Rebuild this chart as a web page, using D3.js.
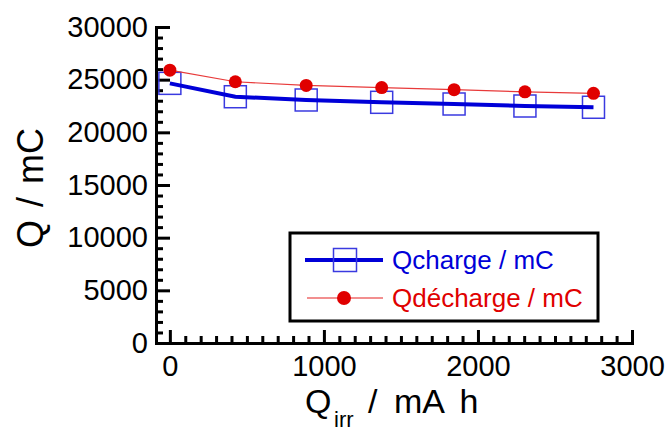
<!DOCTYPE html>
<html><head><meta charset="utf-8">
<script src="https://cdn.jsdelivr.net/npm/d3@7"></script>
<style>
body{margin:0;background:#fff;}
text{font-family:"Liberation Sans",Arial,sans-serif;}
</style></head>
<body><svg id="c" width="665" height="432"></svg>
<script>
const qirr = [0, 425, 885, 1375, 1845, 2305, 2750];
const qcharge = [24650, 23380, 23070, 22850, 22690, 22500, 22380];
const qdecharge = [25900, 24800, 24450, 24250, 24050, 23850, 23700];
const yMajor = [0, 5000, 10000, 15000, 20000, 25000, 30000];
const xMajor = [0, 1000, 2000, 3000];
const seriesNames = ["Qcharge / mC", "Qdécharge / mC"];

const svg = d3.select("#c");
const x = d3.scaleLinear().domain([-90, 3000]).range([156, 632]);
const y = d3.scaleLinear().domain([0, 30000]).range([343, 27]);
const blue = "#0000d8", red = "#e00000";

// minor ticks
const yMinor = d3.range(0, 30001, 1000).filter(v => v % 5000 !== 0);
const xMinor = d3.range(0, 3001, 100).filter(v => v % 1000 !== 0);
svg.append("g").attr("transform","translate(156,0)")
  .call(d3.axisLeft(y).tickValues(yMinor).tickSize(-7).tickFormat(""))
  .call(g=>g.select(".domain").remove())
  .call(g=>g.selectAll("line").attr("stroke","#000").attr("stroke-width",3));
svg.append("g").attr("transform","translate(0,343)")
  .call(d3.axisBottom(x).tickValues(xMinor).tickSize(-7).tickFormat(""))
  .call(g=>g.select(".domain").remove())
  .call(g=>g.selectAll("line").attr("stroke","#000").attr("stroke-width",3));

// major axes
svg.append("g").attr("transform","translate(156,0)")
  .call(d3.axisLeft(y).tickValues(yMajor).tickSize(-14).tickSizeOuter(0).tickPadding(8).tickFormat(d3.format("d")))
  .call(g=>g.select(".domain").attr("stroke","#000").attr("stroke-width",3).attr("stroke-linecap","square"))
  .call(g=>g.selectAll("line").attr("stroke","#000").attr("stroke-width",3))
  .call(g=>g.selectAll("text").attr("font-size",29).attr("fill","#000").attr("font-family","Liberation Sans, Arial, sans-serif"));
svg.append("g").attr("transform","translate(0,343)")
  .call(d3.axisBottom(x).tickValues(xMajor).tickSize(-13).tickSizeOuter(0).tickPadding(12).tickFormat(d3.format("d")))
  .call(g=>g.select(".domain").attr("stroke","#000").attr("stroke-width",3).attr("stroke-linecap","square"))
  .call(g=>g.selectAll("line").attr("stroke","#000").attr("stroke-width",3))
  .call(g=>g.selectAll("text").attr("font-size",29).attr("fill","#000").attr("font-family","Liberation Sans, Arial, sans-serif"));

// series
const ch = qirr.map((v,i)=>[v,qcharge[i]]);
const dc = qirr.map((v,i)=>[v,qdecharge[i]]);
const line = d3.line().x(d=>x(d[0])).y(d=>y(d[1]));
const sq = 22;
svg.append("g").selectAll("rect").data(ch).join("rect")
  .attr("x",d=>x(d[0])-sq/2).attr("y",d=>y(d[1])-sq/2).attr("width",sq).attr("height",sq)
  .attr("fill","none").attr("stroke","#3a3ae0").attr("stroke-width",1.5);
svg.append("path").datum(ch).attr("d",line).attr("fill","none").attr("stroke",blue).attr("stroke-width",4);
svg.append("path").datum(dc).attr("d",line).attr("fill","none").attr("stroke","#e83a3a").attr("stroke-width",1.2);
svg.append("g").selectAll("circle").data(dc).join("circle")
  .attr("cx",d=>x(d[0])).attr("cy",d=>y(d[1])).attr("r",6.5).attr("fill",red);

// legend
const lg = svg.append("g");
lg.append("rect").attr("x",290).attr("y",233).attr("width",308).attr("height",88)
  .attr("fill","#fff").attr("stroke","#000").attr("stroke-width",3);
lg.append("line").attr("x1",305).attr("x2",383).attr("y1",260).attr("y2",260).attr("stroke",blue).attr("stroke-width",4);
lg.append("rect").attr("x",345-11.5).attr("y",260-11.5).attr("width",23).attr("height",23)
  .attr("fill","none").attr("stroke","#3a3ae0").attr("stroke-width",1.5);
lg.append("text").attr("x",392).attr("y",269).attr("font-size",26).attr("fill",blue).text(seriesNames[0]);
lg.append("line").attr("x1",307).attr("x2",383).attr("y1",298).attr("y2",298).attr("stroke","#ee6a6a").attr("stroke-width",1.5);
lg.append("circle").attr("cx",344).attr("cy",298).attr("r",7).attr("fill",red);
lg.append("text").attr("x",392).attr("y",307).attr("font-size",26).attr("fill",red).text(seriesNames[1]);

// axis titles
const xt = svg.append("text").attr("y",413).attr("font-size",34).attr("fill","#000");
xt.append("tspan").attr("x",305).text("Q");
xt.append("tspan").attr("x",334).attr("y",427).attr("font-size",22).text("irr");
xt.append("tspan").attr("x",368).attr("y",413).attr("word-spacing",7).text("/ mA h");
svg.append("text").attr("transform","translate(43,188) rotate(-90)").attr("text-anchor","middle")
  .attr("font-size",36).attr("word-spacing",3).attr("fill","#000").text("Q / mC");
</script></body></html>
